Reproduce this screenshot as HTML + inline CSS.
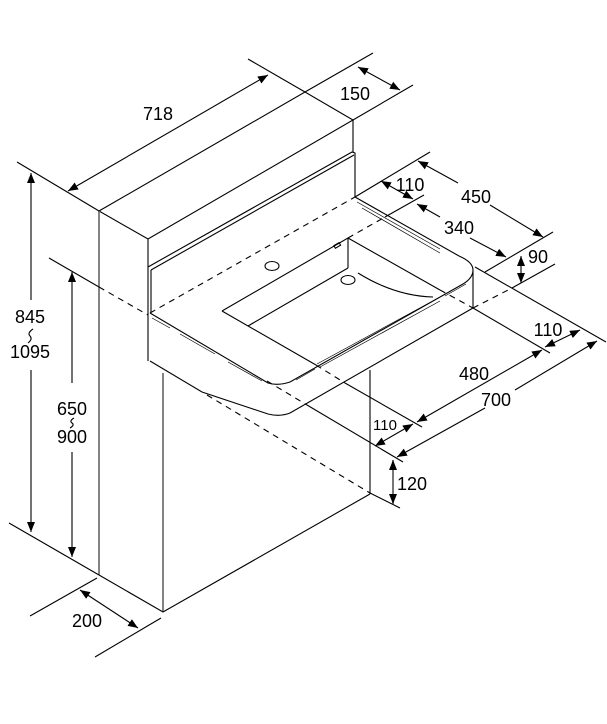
<!DOCTYPE html>
<html><head><meta charset="utf-8">
<style>
html,body{margin:0;padding:0;background:#fff;}
svg{display:block;}
text{font-family:"Liberation Sans",sans-serif;font-size:18px;fill:#000;}
</style></head>
<body>
<svg width="607" height="724" viewBox="0 0 607 724" xmlns="http://www.w3.org/2000/svg">
<defs>
<marker id="a" viewBox="0 0 10 8" refX="10" refY="4" markerWidth="10" markerHeight="8" markerUnits="userSpaceOnUse" orient="auto-start-reverse">
<path d="M0,0 L10,4 L0,8 Z" fill="#000"/>
</marker>
</defs>
<g fill="none" stroke="#000" stroke-width="1.1">
<path d="M99,211 L305,92 L353,120 L148,239 Z"/>
<line x1="353" y1="120" x2="353" y2="152"/>
<path d="M148,267 L352,152 L355,153 L355,197"/>
<path d="M151,270 L354,155"/>
<line x1="148" y1="239" x2="148" y2="361"/>
<line x1="151" y1="270" x2="151" y2="312"/>
<line x1="150" y1="313" x2="355" y2="197" stroke-dasharray="6,5"/>
<path d="M150,313 L268,383 Q278,386 290,382 L463,284 Q473,278 473,270 L473,308"/>
<path d="M355,197 L459,256 Q473,262 473,270"/>
<path d="M357,202 L440,249 M362,208 L440,253" stroke-width="0.7"/>
<path d="M152,318 L170,328 M180,334 L215,354 M228,362 L262,381" stroke-width="0.7"/>
<path d="M296,380 L315,369 M317,364 L440,297 M320,367 L440,301 M445,296 L466,284" stroke-width="0.7"/>
<path d="M150,361 L202,392 L268,414 Q280,417 290,413 L473,308"/>
<path d="M222,311 L348,238 L440,290"/>
<path d="M222,311 L316,365"/>
<line x1="348" y1="238" x2="348" y2="268"/>
<line x1="248" y1="326" x2="348" y2="268"/>
<path d="M358,273 Q395,296 433,297"/>
<ellipse cx="272" cy="266" rx="7" ry="4.5"/>
<ellipse cx="348" cy="280" rx="7" ry="4.5"/>
<rect x="334" y="244" width="6" height="3" transform="rotate(-30 337 245)"/>
<g stroke="#666" stroke-width="1.6">
<line x1="99" y1="211" x2="99" y2="575"/>
<line x1="163" y1="373" x2="163" y2="612"/>
</g>
<path d="M99,575 L163,612 L370,494"/>
<line x1="370" y1="370" x2="370" y2="494"/>
<g stroke-dasharray="6,5">
<line x1="99" y1="287" x2="148" y2="315"/>
<line x1="316" y1="365" x2="345" y2="383"/>
<line x1="267" y1="381" x2="307" y2="405"/>
<line x1="207" y1="395" x2="370" y2="493"/>
<line x1="348" y1="238" x2="385" y2="217"/>
<line x1="440" y1="290" x2="473" y2="308"/>
<line x1="473" y1="308" x2="512" y2="288"/>
</g>
<line x1="49" y1="258" x2="99" y2="287"/>
<line x1="17" y1="162" x2="99" y2="211"/>
<line x1="9" y1="523" x2="99" y2="575"/>
<line x1="30" y1="616" x2="97" y2="578"/>
<line x1="95" y1="657" x2="161" y2="618"/>
<line x1="248" y1="59" x2="305" y2="92"/>
<line x1="305" y1="92" x2="373" y2="53"/>
<line x1="353" y1="120" x2="413" y2="85"/>
<line x1="355" y1="197" x2="430" y2="152"/>
<line x1="385" y1="217" x2="424" y2="195"/>
<line x1="485" y1="272" x2="553" y2="232"/>
<line x1="512" y1="288" x2="555" y2="264"/>
<line x1="475" y1="267" x2="606" y2="342"/>
<line x1="473" y1="308" x2="550" y2="353"/>
<line x1="345" y1="383" x2="422" y2="427"/>
<line x1="307" y1="405" x2="403" y2="462"/>
<line x1="370" y1="493" x2="400" y2="508"/>
<path d="M33,329 Q27,333 30,336 Q33,339 28,343"/>
<path d="M74,418 Q69,421 72,423 Q75,425 70,428"/>
</g>
<g fill="none" stroke="#000" stroke-width="1.1">
<line x1="68" y1="191" x2="268" y2="75" marker-start="url(#a)" marker-end="url(#a)"/>
<line x1="358" y1="67" x2="400" y2="90" marker-start="url(#a)" marker-end="url(#a)"/>
<line x1="418" y1="161" x2="458" y2="183" marker-start="url(#a)"/>
<line x1="490" y1="205" x2="543" y2="237" marker-end="url(#a)"/>
<line x1="381" y1="181" x2="413" y2="199" marker-start="url(#a)" marker-end="url(#a)"/>
<line x1="417" y1="204" x2="440" y2="217" marker-start="url(#a)"/>
<line x1="470" y1="238" x2="506" y2="257" marker-end="url(#a)"/>
<line x1="521" y1="256" x2="521" y2="283" marker-start="url(#a)" marker-end="url(#a)"/>
<line x1="545" y1="347" x2="580" y2="330" marker-start="url(#a)" marker-end="url(#a)"/>
<line x1="417" y1="422" x2="542" y2="350" marker-start="url(#a)" marker-end="url(#a)"/>
<line x1="397" y1="457" x2="485" y2="408" marker-start="url(#a)"/>
<line x1="515" y1="390" x2="597" y2="341" marker-end="url(#a)"/>
<line x1="375" y1="446" x2="413" y2="424" marker-start="url(#a)" marker-end="url(#a)"/>
<line x1="393" y1="460" x2="393" y2="504" marker-start="url(#a)" marker-end="url(#a)" stroke="#555" stroke-width="1.6"/>
<line x1="31" y1="173" x2="31" y2="300" marker-start="url(#a)"/>
<line x1="31" y1="370" x2="31" y2="532" marker-end="url(#a)"/>
<line x1="72" y1="272" x2="72" y2="383" marker-start="url(#a)"/>
<line x1="72" y1="452" x2="72" y2="557" marker-end="url(#a)"/>
<line x1="80" y1="590" x2="138" y2="628" marker-start="url(#a)" marker-end="url(#a)"/>
</g>
<g text-anchor="middle">
<text x="158" y="120">718</text>
<text x="355" y="100">150</text>
<text x="476" y="203">450</text>
<text x="410" y="191">110</text>
<text x="459" y="234">340</text>
<text x="538" y="263">90</text>
<text x="548" y="336">110</text>
<text x="474" y="380">480</text>
<text x="496" y="406">700</text>
<text x="385" y="430" style="font-size:15px">110</text>
<text x="412" y="490">120</text>
<text x="87" y="627">200</text>
<text x="30" y="323">845</text>
<text x="30" y="358">1095</text>
<text x="72" y="415">650</text>
<text x="72" y="443">900</text>
</g>
</svg>
</body></html>
